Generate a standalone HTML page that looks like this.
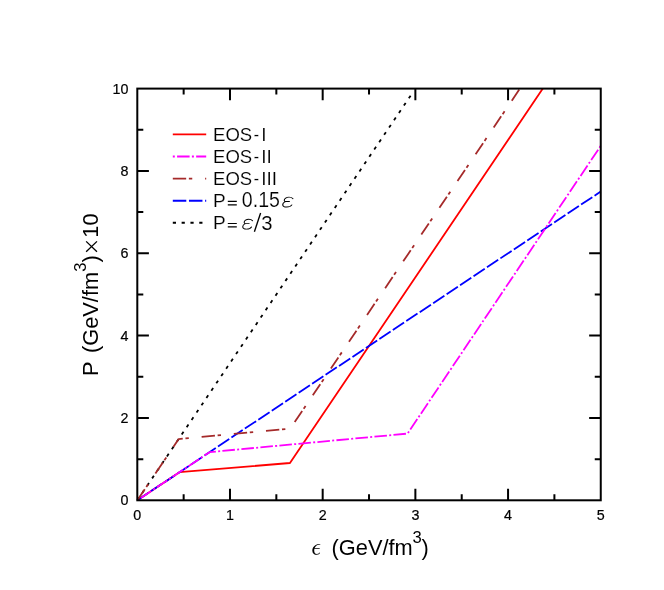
<!DOCTYPE html>
<html><head><meta charset="utf-8"><title>EOS</title>
<style>html,body{margin:0;padding:0;background:#fff;}svg{display:block;will-change:transform;}text{font-family:"Liberation Sans",sans-serif;fill:#000;stroke:#fff;stroke-width:0.007em;}.tk text{stroke:#000;stroke-width:0.2px;}.ax text{stroke:none;}</style>
</head><body>
<svg width="664" height="590" viewBox="0 0 664 590">
<rect width="664" height="590" fill="#fff"/>
<defs><clipPath id="c"><rect x="136.3" y="87.6" width="465.45" height="413.70000000000005"/></clipPath></defs>
<g clip-path="url(#c)" fill="none" stroke-width="1.8" stroke-linejoin="round">
<polyline points="137.30,500.30 179.47,472.20 289.96,463.00 542.82,88.60" stroke="#ff0000"/>
<polyline points="137.30,500.30 600.75,191.52" stroke="#0000ff" stroke-dasharray="13.5 2.66"/>
<polyline points="137.30,500.30 410.92,95.19" stroke="#000" stroke-dasharray="3.2 5.62"/>
<polyline points="137.30,500.30 209.60,452.13 407.54,433.60 600.75,145.83" stroke="#ff00ff" stroke-dasharray="2 2.27 12.55 2.27"/>
<polyline points="137.30,500.30 178.64,439.08 290.24,428.66 519.92,88.60" stroke="#a52a2a" stroke-dasharray="13.37 2.69 3.39 12.87"/>
</g>
<g stroke="#000" stroke-width="2" fill="none" stroke-linecap="butt">
<rect x="137.3" y="88.6" width="463.45" height="411.70000000000005"/>
<path d="M183.65,500.3v-6.0M183.65,88.6v6.0M229.99,500.3v-11.6M229.99,88.6v11.6M276.34,500.3v-6.0M276.34,88.6v6.0M322.68,500.3v-11.6M322.68,88.6v11.6M369.02,500.3v-6.0M369.02,88.6v6.0M415.37,500.3v-11.6M415.37,88.6v11.6M461.72,500.3v-6.0M461.72,88.6v6.0M508.06,500.3v-11.6M508.06,88.6v11.6M554.40,500.3v-6.0M554.40,88.6v6.0M137.3,459.13h6.0M600.75,459.13h-6.0M137.3,417.96h11.6M600.75,417.96h-11.6M137.3,376.79h6.0M600.75,376.79h-6.0M137.3,335.62h11.6M600.75,335.62h-11.6M137.3,294.45h6.0M600.75,294.45h-6.0M137.3,253.28h11.6M600.75,253.28h-11.6M137.3,212.11h6.0M600.75,212.11h-6.0M137.3,170.94h11.6M600.75,170.94h-11.6M137.3,129.77h6.0M600.75,129.77h-6.0"/>
</g>
<g class="tk" font-size="14.3px">
<text x="137.30" y="520.2" text-anchor="middle">0</text>
<text x="229.99" y="520.2" text-anchor="middle">1</text>
<text x="322.68" y="520.2" text-anchor="middle">2</text>
<text x="415.37" y="520.2" text-anchor="middle">3</text>
<text x="508.06" y="520.2" text-anchor="middle">4</text>
<text x="600.75" y="520.2" text-anchor="middle">5</text>
<text x="128.5" y="505.30" text-anchor="end">0</text>
<text x="128.5" y="422.96" text-anchor="end">2</text>
<text x="128.5" y="340.62" text-anchor="end">4</text>
<text x="128.5" y="258.28" text-anchor="end">6</text>
<text x="128.5" y="175.94" text-anchor="end">8</text>
<text x="128.5" y="93.60" text-anchor="end">10</text>
</g>
<g class="ax" font-size="21.8px">
<path transform="translate(312,555)" d="M8.3,-11.1C5.5,-11.3 0.3,-9.5 0.3,-4.6C0.3,-1.6 2.3,-0.2 4.8,-0.2C6.5,-0.2 7.7,-1.0 8.1,-2.2L7.6,-2.4C7.2,-1.5 6.2,-1.0 5.0,-1.0C3.2,-1.0 2.2,-2.3 2.2,-4.6C2.2,-5.3 2.3,-5.9 2.45,-6.3L7.7,-6.3L7.7,-7.05L2.7,-7.05C3.6,-9.2 5.8,-10.4 8.3,-10.4Z" fill="#000"/>
<g transform="translate(0,555) scale(1,1.05) translate(0,-555)">
<text x="331.6" y="555">(GeV/fm</text>
<text x="421.5" y="555">)</text>
</g>
<text x="412.6" y="542.8" font-size="16.6px">3</text>
<g transform="translate(97.7,376) rotate(-90) scale(1,1.05)">
<text x="0" y="0">P</text>
<text x="23" y="0">(GeV/fm</text>
<text transform="translate(104.3,-11.6) scale(1,0.952)" font-size="16.6px">3</text>
<text x="113.5" y="0">)</text>
<path d="M124.3,-11.0L134.6,-0.7M124.3,-0.7L134.6,-11.0" stroke="#000" stroke-width="1.25" fill="none"/>
<text x="138.3" y="0">10</text>
</g>
</g>
<g fill="none" stroke-width="1.9">
<path d="M172.8,134.4H206.2" stroke="#ff0000"/>
<path d="M172.8,156.5H206.2" stroke="#ff00ff" stroke-dasharray="2 2.27 12.55 2.27"/>
<path d="M172.8,178.6H206.2" stroke="#a52a2a" stroke-dasharray="13.37 2.69 3.39 12.87"/>
<path d="M172.8,200.7H206.2" stroke="#0000ff" stroke-dasharray="13.5 2.66"/>
<path d="M172.8,222.8H206.2" stroke="#000" stroke-dasharray="3.2 5.62"/>
</g>
<g font-size="19px">
<text x="213" y="141.0" textLength="39.2" lengthAdjust="spacingAndGlyphs">EOS</text>
<text x="253.75" y="140.5" textLength="5.3" lengthAdjust="spacingAndGlyphs">-</text>
<text x="261.2" y="141.0">I</text>
<text x="213" y="163.1" textLength="39.2" lengthAdjust="spacingAndGlyphs">EOS</text>
<text x="253.75" y="162.6" textLength="5.3" lengthAdjust="spacingAndGlyphs">-</text>
<text x="261.2" y="163.1">II</text>
<text x="213" y="185.2" textLength="39.2" lengthAdjust="spacingAndGlyphs">EOS</text>
<text x="253.75" y="184.7" textLength="5.3" lengthAdjust="spacingAndGlyphs">-</text>
<text x="261.2" y="185.2">III</text>
<text x="213" y="207.3">P</text><path d="M227.8,201.4h9M227.8,204.8h9" stroke="#000" stroke-width="1.15" fill="none"/>
<text transform="translate(241.8,207.3) scale(0.965,1.055)" font-size="20.3px">0.15</text>
<path transform="translate(282.5,207.60000000000002) scale(1.0,0.83)" d="M10.5,-10.75C9.5,-12.2 8,-12.6 6.5,-12.6C4,-12.6 1.75,-10.8 1.75,-9.0C1.75,-8.0 2.3,-7.5 3.0,-7.3H7.0M3.0,-7.25C1.5,-6.6 0.25,-5.2 0.25,-3.5C0.25,-1.7 1.9,-0.65 4.2,-0.65C6.6,-0.65 8.6,-1.8 9.35,-3.3" fill="none" stroke="#000" stroke-width="1.1" stroke-linecap="round" stroke-linejoin="round"/>
<text x="213" y="229.4">P</text><path d="M227.8,223.5h9M227.8,226.9h9" stroke="#000" stroke-width="1.15" fill="none"/>
<path transform="translate(242.5,229.70000000000002) scale(0.96,0.83)" d="M10.5,-10.75C9.5,-12.2 8,-12.6 6.5,-12.6C4,-12.6 1.75,-10.8 1.75,-9.0C1.75,-8.0 2.3,-7.5 3.0,-7.3H7.0M3.0,-7.25C1.5,-6.6 0.25,-5.2 0.25,-3.5C0.25,-1.7 1.9,-0.65 4.2,-0.65C6.6,-0.65 8.6,-1.8 9.35,-3.3" fill="none" stroke="#000" stroke-width="1.1" stroke-linecap="round" stroke-linejoin="round"/>
<path d="M254.4,231.7L260.6,213.0" stroke="#000" stroke-width="1.35" fill="none"/>
<text x="261.3" y="230.20000000000002" font-size="20.3px">3</text>
</g>
</svg></body></html>
